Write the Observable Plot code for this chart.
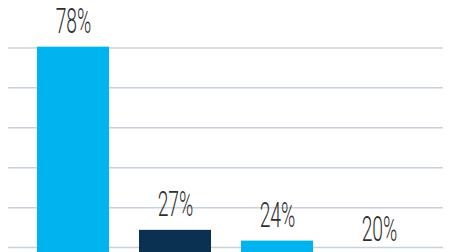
<!DOCTYPE html>
<html>
<head>
<meta charset="utf-8">
<script src="https://cdn.jsdelivr.net/npm/d3@7"></script>
<script src="https://cdn.jsdelivr.net/npm/@observablehq/plot@0.6"></script>
<style>
  html, body { margin: 0; padding: 0; background: #fff; overflow: hidden; }
</style>
</head>
<body>
<div id="chart"></div>
<script>
const categories = ["A", "B", "C", "D"];
const values = [78, 27, 24, 20];
const labels = ["78%", "27%", "24%", "20%"];
const barColors = ["#00b4ef", "#0b3152", "#00b4ef", "#00b4ef"];
const gridTicks = [22.2, 33.3, 44.4, 55.6, 66.7, 77.8];

const data = categories.map((c, i) => ({category: c, value: values[i], label: labels[i], color: barColors[i]}));

const chart = Plot.plot({
  width: 449,
  height: 252,
  marginTop: 0,
  marginBottom: 0,
  marginLeft: 6,
  marginRight: 2,
  style: {background: "#fff", overflow: "visible"},
  x: {domain: categories, padding: 0.29, axis: null},
  y: {domain: [20.83, 91.0], axis: null},
  marks: [
    Plot.ruleY(gridTicks, {stroke: "#c8d2dc", strokeWidth: 1.5, insetLeft: 2, insetRight: 4}),
    Plot.barY(data, {x: "category", y: "value", fill: "color", clip: true}),
    Plot.text(data, {x: "category", y: "value", text: "label", lineAnchor: "bottom", dy: -14,
      fontSize: 34.5, fontFamily: "Roboto", fontWeight: 300, fill: "#2e2e2e"})
  ]
});
document.getElementById("chart").appendChild(chart);
chart.querySelectorAll("text").forEach(t => {
  const w = t.getComputedTextLength();
  t.setAttribute("textLength", (w * 0.56).toFixed(1));
  t.setAttribute("lengthAdjust", "spacingAndGlyphs");
});
</script>
</body>
</html>
